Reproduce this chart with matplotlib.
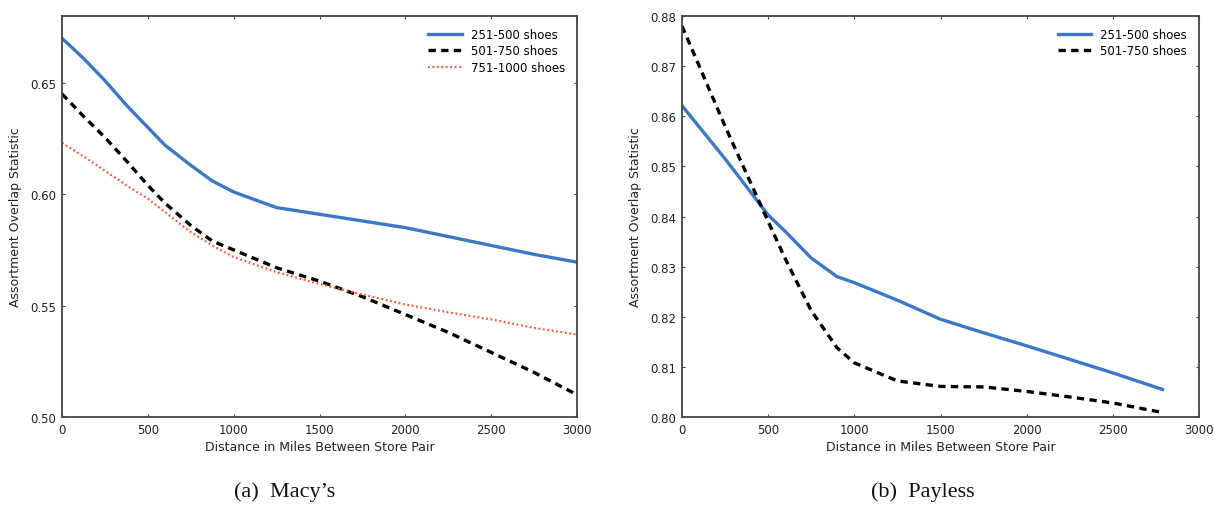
import matplotlib
matplotlib.use("Agg")
import matplotlib.pyplot as plt

# Macy's
macy_x = [0, 125, 250, 375, 500, 600, 750, 875, 1000, 1250, 1500, 1750, 2000, 2250, 2500, 2750, 3000]
macy_251_500 = [0.670, 0.661, 0.651, 0.640, 0.630, 0.622, 0.613, 0.606, 0.601, 0.594, 0.591, 0.588, 0.585, 0.581, 0.577, 0.573, 0.5695]
macy_501_750 = [0.645, 0.635, 0.6255, 0.615, 0.604, 0.596, 0.586, 0.579, 0.575, 0.567, 0.561, 0.554, 0.546, 0.538, 0.529, 0.520, 0.510]
macy_751_1000 = [0.623, 0.617, 0.6105, 0.604, 0.598, 0.592, 0.583, 0.577, 0.5718, 0.565, 0.5597, 0.555, 0.5505, 0.547, 0.5438, 0.540, 0.537]

# Payless
pay_x = [0, 125, 250, 375, 500, 600, 750, 900, 1000, 1250, 1500, 1750, 2000, 2250, 2500, 2788]
pay_251_500 = [0.8621, 0.8568, 0.8515, 0.8459, 0.8403, 0.8370, 0.8317, 0.8280, 0.8268, 0.8233, 0.8195, 0.8168, 0.8142, 0.8115, 0.8088, 0.8055]
pay_501_750 = [0.8780, 0.8680, 0.8580, 0.8485, 0.8390, 0.8315, 0.8212, 0.8138, 0.8108, 0.8072, 0.8061, 0.8060, 0.8051, 0.8040, 0.8028, 0.8009]

xticks = [0, 500, 1000, 1500, 2000, 2500, 3000]
macy_yticks = [0.50, 0.55, 0.60, 0.65]
pay_yticks = [0.80, 0.81, 0.82, 0.83, 0.84, 0.85, 0.86, 0.87, 0.88]
labels = ["251-500 shoes", "501-750 shoes", "751-1000 shoes"]
captions = ["(a)  Macy\u2019s", "(b)  Payless"]

BLUE = "#3B78C6"
RED = "#FF5030"
SPINE = "#444444"

plt.rcParams["font.family"] = "DejaVu Sans"
fig = plt.figure(figsize=(12.14, 5.06), dpi=100)
W, H = 1214, 506
ax1 = fig.add_axes([62 / W, 88 / H, 515 / W, 401 / H])
ax2 = fig.add_axes([682 / W, 88 / H, 517 / W, 401 / H])

ax1.plot(macy_x, macy_251_500, color=BLUE, lw=2.4, label=labels[0])
ax1.plot(macy_x, macy_501_750, color="black", lw=2.4, ls=(0, (2.2, 1.6)), label=labels[1])
ax1.plot(macy_x, macy_751_1000, color=RED, lw=1.6, ls=(0, (0.8, 1.2)), label=labels[2])
ax1.set_xlim(0, 3000)
ax1.set_ylim(0.50, 0.68)
ax1.set_yticks(macy_yticks)
ax1.set_yticklabels([f"{v:.2f}" for v in macy_yticks])

ax2.plot(pay_x, pay_251_500, color=BLUE, lw=2.4, label=labels[0])
ax2.plot(pay_x, pay_501_750, color="black", lw=2.4, ls=(0, (2.2, 1.6)), label=labels[1])
ax2.set_xlim(0, 3000)
ax2.set_ylim(0.80, 0.88)
ax2.set_yticks(pay_yticks)
ax2.set_yticklabels([f"{v:.2f}" for v in pay_yticks])

for ax in [ax1, ax2]:
    ax.set_xticks(xticks)
    ax.tick_params(direction="in", length=2.5, width=0.8, colors=SPINE,
                   labelsize=8.5, top=True, right=True, pad=4)
    ax.tick_params(labelcolor="#222222")
    for s in ax.spines.values():
        s.set_color(SPINE)
        s.set_linewidth(1.3)
    ax.set_xlabel("Distance in Miles Between Store Pair", fontsize=9, color="#222222", labelpad=3)
    ax.set_ylabel("Assortment Overlap Statistic", fontsize=9, color="#222222", labelpad=6)
    ax.legend(loc="upper right", frameon=False, fontsize=8.5, handlelength=2.8,
              labelspacing=0.3, borderaxespad=0.6)

for cx, cap in zip([285, 923], captions):
    fig.text(cx / W, (506 - 492) / H, cap, ha="center", va="center",
             fontsize=16, family="Liberation Serif", color="#111111")

fig.savefig("out.png", dpi=100)
